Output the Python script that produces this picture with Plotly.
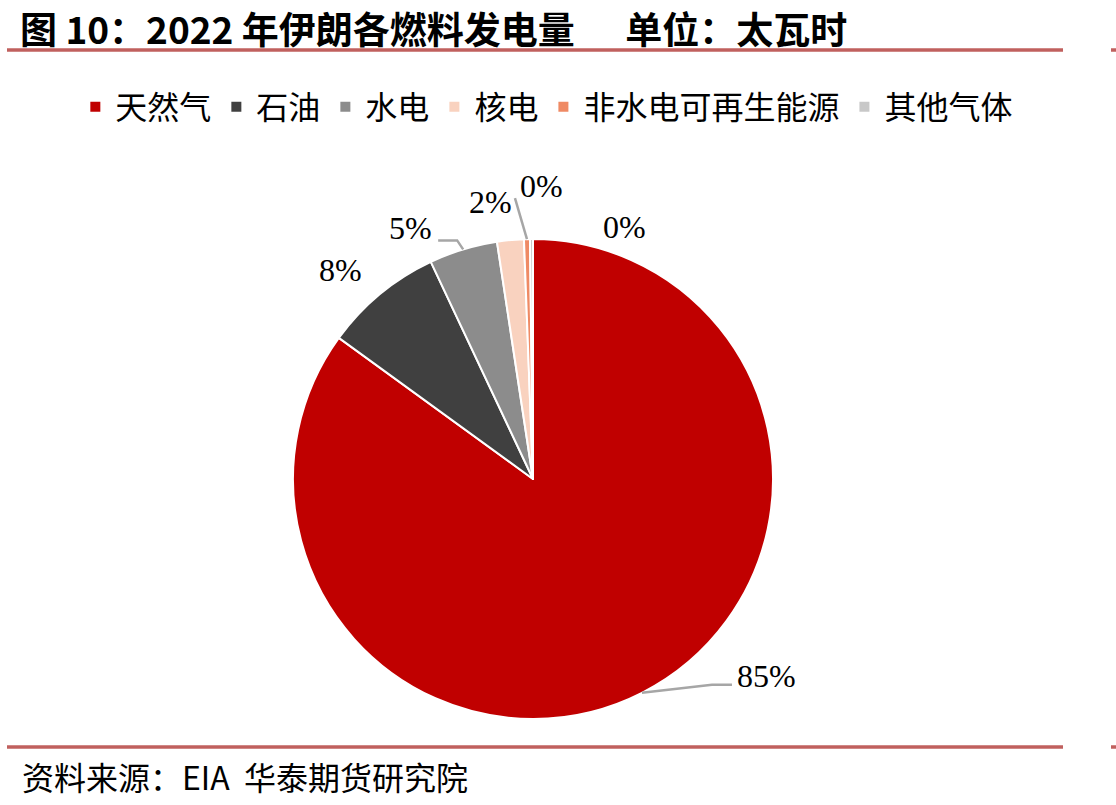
import math
import plotly.graph_objects as go

# ---------------- data ----------------
labels = ["天然气", "石油", "水电", "核电", "非水电可再生能源", "其他气体"]
values = [85.0, 8.0, 4.6, 1.8, 0.4, 0.2]
colors = ["#C00000", "#404040", "#8C8C8C", "#F9D2BF", "#EF8A64", "#C8C8C8"]

title_text = "图 10：2022 年伊朗各燃料发电量      单位：太瓦时"
source_text = "资料来源：EIA  华泰期货研究院"

# ---------------- layout helpers ----------------
W, H = 1116, 805
CX, CY, R = 533, 479, 240


def PX(x):
    return x / W


def PY(y):
    return 1 - y / H


# label placement (pixels relative to the slice's outer mid point)
label_offsets = [(125, -17), (-40, -24), (-53, -21), (-20, -38), (15, -53), (93, -12)]
leader_points = [
    [(70, -8), (90, -8)],      # 天然气
    None,
    [(-6, -9), (-25, -9)],     # 水电
    None,
    [(-12, -41)],              # 非水电可再生能源
    None,
]

fig = go.Figure()
fig.add_trace(go.Pie(
    labels=labels,
    values=values,
    sort=False,
    direction="clockwise",
    rotation=0,
    marker=dict(colors=colors, line=dict(color="white", width=2)),
    textinfo="none",
    hoverinfo="label+percent",
    domain=dict(x=[PX(CX - R), PX(CX + R)], y=[PY(CY + R), PY(CY - R)]),
))

total = sum(values)
annotations = []
shapes = []
cum = 0.0
for i, v in enumerate(values):
    mid = (cum + v / 2) / total * 2 * math.pi
    cum += v
    ex = CX + R * math.sin(mid)
    ey = CY - R * math.cos(mid)
    dx, dy = label_offsets[i]
    pct = f"{round(v / total * 100):.0f}%"
    annotations.append(dict(
        x=PX(ex + dx), y=PY(ey + dy), xref="paper", yref="paper",
        text=pct, showarrow=False, xanchor="center", yanchor="middle",
        font=dict(family="Liberation Serif", size=32, color="black"),
    ))
    if leader_points[i]:
        pts = [(ex, ey)] + [(ex + a, ey + b) for a, b in leader_points[i]]
        path = "M " + " L ".join(f"{PX(x):.5f},{PY(y):.5f}" for x, y in pts)
        shapes.append(dict(type="path", xref="paper", yref="paper", path=path,
                           line=dict(color="#A6A6A6", width=2.5)))

# title
annotations.append(dict(
    x=PX(18), y=PY(28), xref="paper", yref="paper", text=title_text,
    showarrow=False, xanchor="left", yanchor="middle",
    font=dict(family="Noto Sans CJK SC", size=37, color="black", weight="bold"),
))
# source
annotations.append(dict(
    x=PX(20), y=PY(776), xref="paper", yref="paper", text=source_text,
    showarrow=False, xanchor="left", yanchor="middle",
    font=dict(family="Noto Sans CJK SC", size=32, color="black"),
))

line_col = "#C0605E"
for yy in (50, 747):
    shapes.append(dict(type="line", xref="paper", yref="paper",
                       x0=PX(7), x1=PX(1063), y0=PY(yy), y1=PY(yy),
                       line=dict(color=line_col, width=3.5)))
    shapes.append(dict(type="line", xref="paper", yref="paper",
                       x0=PX(1111), x1=PX(1116), y0=PY(yy), y1=PY(yy),
                       line=dict(color=line_col, width=3.5)))

fig.update_layout(
    width=W, height=H,
    margin=dict(l=0, r=0, t=0, b=0),
    paper_bgcolor="white",
    plot_bgcolor="white",
    showlegend=True,
    legend=dict(
        orientation="h", x=0.49, xanchor="center", y=PY(107), yanchor="middle",
        font=dict(family="Noto Sans CJK SC", size=32, color="black"),
        itemclick=False, itemdoubleclick=False,
    ),
    annotations=annotations,
    shapes=shapes,
)

fig.write_html("out.html")
